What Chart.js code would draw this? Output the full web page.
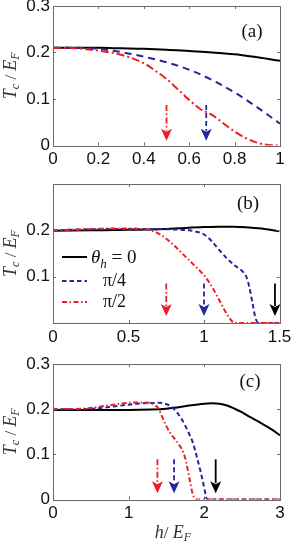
<!DOCTYPE html>
<html><head><meta charset="utf-8">
<script src="https://cdn.jsdelivr.net/npm/chart.js@4/dist/chart.umd.min.js"></script>
<style>
html,body{margin:0;padding:0;background:#fff;width:291px;height:542px;overflow:hidden}
.p{position:absolute;left:0;width:291px}
canvas{display:block}
</style></head><body>
<div class="p" style="top:0;height:176px"><canvas id="ca" width="291" height="176"></canvas></div>
<div class="p" style="top:176px;height:170px"><canvas id="cb" width="291" height="170"></canvas></div>
<div class="p" style="top:346px;height:196px"><canvas id="cc" width="291" height="196"></canvas></div>
<script>
// ---------- Panel (a): h/E_F from 0 to 1 ----------
const aBlackX = [0, 0.1, 0.2, 0.3, 0.4, 0.5, 0.6, 0.7, 0.8, 0.85, 0.9, 0.95, 1.0];
const aBlackY = [0.21, 0.21, 0.21, 0.209, 0.208, 0.206, 0.203, 0.2, 0.196, 0.193, 0.19, 0.186, 0.182];
const aBlueX = [0, 0.1, 0.2, 0.3, 0.4, 0.5, 0.6, 0.7, 0.8, 0.9, 1.0];
const aBlueY = [0.21, 0.21, 0.208, 0.201, 0.191, 0.179, 0.163, 0.141, 0.114, 0.082, 0.047];
const aRedX = [0, 0.1, 0.2, 0.3, 0.4, 0.45, 0.5, 0.55, 0.6, 0.65, 0.7, 0.75, 0.8, 0.85, 0.9, 0.95, 1.0];
const aRedY = [0.21, 0.209, 0.204, 0.195, 0.177, 0.161, 0.143, 0.121, 0.098, 0.078, 0.066, 0.048, 0.03, 0.016, 0.006, 0.001, 0];
const aArrowX = [0.5, 0.675];
const aArrowTop = 0.087, aArrowTip = 0.01;

// ---------- Panel (b): h/E_F from 0 to 1.5 ----------
const bBlackX = [0, 0.25, 0.5, 0.75, 1.0, 1.1, 1.2, 1.3, 1.4, 1.5];
const bBlackY = [0.199, 0.2, 0.201, 0.203, 0.207, 0.208, 0.208, 0.206, 0.203, 0.198];
const bBlueX = [0, 0.2, 0.4, 0.6, 0.8, 0.9, 0.95, 1.0, 1.05, 1.1, 1.15, 1.2, 1.25, 1.28, 1.3, 1.32, 1.34, 1.36, 1.5];
const bBlueY = [0.2, 0.202, 0.203, 0.203, 0.202, 0.2, 0.197, 0.191, 0.177, 0.158, 0.14, 0.125, 0.113, 0.1, 0.078, 0.045, 0.012, 0, 0];
const bRedX = [0, 0.2, 0.4, 0.6, 0.65, 0.7, 0.75, 0.8, 0.85, 0.9, 0.95, 1.0, 1.05, 1.1, 1.15, 1.19, 1.2, 1.5];
const bRedY = [0.2, 0.202, 0.204, 0.203, 0.2, 0.193, 0.182, 0.168, 0.152, 0.136, 0.12, 0.103, 0.08, 0.05, 0.02, 0.002, 0, 0];
const bArrowX = [0.75, 1.0, 1.47];
const bArrowTop = 0.085, bArrowTip = 0.015;

// ---------- Panel (c): h/E_F from 0 to 3 ----------
const cBlackX = [0, 0.5, 1.0, 1.3, 1.5, 1.6, 1.8, 2.0, 2.1, 2.2, 2.3, 2.4, 2.5, 2.6, 2.7, 2.8, 2.9, 3.0];
const cBlackY = [0.198, 0.198, 0.198, 0.199, 0.201, 0.203, 0.208, 0.212, 0.213, 0.212, 0.208, 0.201, 0.193, 0.183, 0.174, 0.164, 0.154, 0.142];
const cBlueX = [0, 0.4, 0.6, 0.8, 1.0, 1.2, 1.4, 1.5, 1.55, 1.6, 1.7, 1.8, 1.85, 1.9, 1.95, 2.0, 2.03, 2.05, 3.0];
const cBlueY = [0.2, 0.2, 0.202, 0.206, 0.21, 0.213, 0.214, 0.211, 0.207, 0.2, 0.178, 0.145, 0.125, 0.095, 0.062, 0.025, 0.002, 0, 0];
const cRedX = [0, 0.4, 0.6, 0.8, 1.0, 1.2, 1.3, 1.35, 1.4, 1.45, 1.5, 1.55, 1.6, 1.65, 1.7, 1.75, 1.8, 1.85, 1.9, 3.0];
const cRedY = [0.2, 0.201, 0.205, 0.21, 0.214, 0.215, 0.213, 0.209, 0.2, 0.18, 0.162, 0.147, 0.136, 0.125, 0.112, 0.09, 0.05, 0.01, 0, 0];
const cArrowX = [1.38, 1.6, 2.15];
const cArrowTop = 0.089, cArrowTip = 0.014;

const yTicks = [0, 0.1, 0.2, 0.3];
const legendLabels = ['0', 'π/4', 'π/2'];

const BLACK = '#000000', BLUE = '#26269c', RED = '#ee1c24', FRAME = '#6a6a6a';
const SERIF = '"Liberation Serif","Times New Roman",serif';
const SANS = '"Liberation Sans",Arial,sans-serif';

function pts(xs, ys) { return xs.map((x, i) => ({ x: x, y: ys[i] })); }

const decorPlugin = {
  id: 'decor',
  afterDatasetsDraw(chart) {
    const o = chart.options.plugins.decor;
    const ctx = chart.ctx, xs = chart.scales.x, ys = chart.scales.y;
    o.arrows.forEach(a => {
      const px = xs.getPixelForValue(a.x), pt = ys.getPixelForValue(a.top), tip = ys.getPixelForValue(a.tip);
      const hh = 12, hw = 5.5;
      ctx.save();
      ctx.strokeStyle = a.color; ctx.lineWidth = 1.8; ctx.setLineDash(a.dash);
      ctx.beginPath(); ctx.moveTo(px, pt); ctx.lineTo(px, tip - hh + 2); ctx.stroke();
      ctx.setLineDash([]); ctx.fillStyle = a.color;
      ctx.beginPath(); ctx.moveTo(px - hw, tip - hh); ctx.lineTo(px, tip - hh + 3);
      ctx.lineTo(px + hw, tip - hh); ctx.lineTo(px, tip); ctx.closePath(); ctx.fill();
      ctx.restore();
    });
  },
  afterDraw(chart) {
    const o = chart.options.plugins.decor;
    const ctx = chart.ctx, xs = chart.scales.x, ys = chart.scales.y, ca = chart.chartArea;
    const off = chart.canvas.offsetParent.offsetTop;
    ctx.save();
    ctx.strokeStyle = FRAME; ctx.lineWidth = 1;
    ctx.strokeRect(Math.round(ca.left) + 0.5, Math.round(ca.top) + 0.5, Math.round(ca.right - ca.left), Math.round(ca.bottom - ca.top));
    const tl = 3;
    xs.ticks.forEach(t => {
      const p = Math.round(xs.getPixelForValue(t.value)) + 0.5;
      ctx.beginPath(); ctx.moveTo(p, ca.bottom); ctx.lineTo(p, ca.bottom - tl);
      ctx.moveTo(p, ca.top); ctx.lineTo(p, ca.top + tl); ctx.stroke();
    });
    ys.ticks.forEach(t => {
      const p = Math.round(ys.getPixelForValue(t.value)) + 0.5;
      ctx.beginPath(); ctx.moveTo(ca.left, p); ctx.lineTo(ca.left + tl, p);
      ctx.moveTo(ca.right, p); ctx.lineTo(ca.right - tl, p); ctx.stroke();
    });
    ctx.fillStyle = '#111'; ctx.font = '19px ' + SERIF; ctx.textAlign = 'center'; ctx.textBaseline = 'middle';
    ctx.fillText(o.label, o.labelPos[0], o.labelPos[1] - off);
    const cy = (ca.top + ca.bottom) / 2;
    ctx.translate(16, cy); ctx.rotate(-Math.PI / 2);
    const parts = [
      { t: 'T', f: 'italic 18px ' + SERIF, dy: 0 },
      { t: 'c', f: 'italic 12px ' + SERIF, dy: 3 },
      { t: ' / ', f: '17px ' + SERIF, dy: 0 },
      { t: 'E', f: 'italic 18px ' + SERIF, dy: 0 },
      { t: 'F', f: 'italic 12px ' + SERIF, dy: 3 }
    ];
    let w = 0;
    parts.forEach(p => { ctx.font = p.f; p.w = ctx.measureText(p.t).width; w += p.w; });
    let x = -w / 2;
    ctx.textAlign = 'left'; ctx.textBaseline = 'alphabetic'; ctx.fillStyle = '#333';
    parts.forEach(p => { ctx.font = p.f; ctx.fillText(p.t, x, p.dy); x += p.w; });
    ctx.restore();
    if (o.xTitle) {
      ctx.save();
      const xp = [
        { t: 'h', f: 'italic 18px ' + SERIF, dy: 0 },
        { t: '/ ', f: '17px ' + SERIF, dy: 0 },
        { t: 'E', f: 'italic 18px ' + SERIF, dy: 0 },
        { t: 'F', f: 'italic 12px ' + SERIF, dy: 3 }
      ];
      let ww = 0;
      xp.forEach(p => { ctx.font = p.f; p.w = ctx.measureText(p.t).width; ww += p.w; });
      let xx = o.xTitle[0] - ww / 2;
      const by = o.xTitle[1] - off;
      ctx.fillStyle = '#333'; ctx.textAlign = 'left'; ctx.textBaseline = 'alphabetic';
      xp.forEach(p => { ctx.font = p.f; ctx.fillText(p.t, xx, by + p.dy); xx += p.w; });
      ctx.restore();
    }
    if (o.legend) {
      ctx.save();
      const ds = chart.data.datasets;
      const rows = [ds[2], ds[1], ds[0]];
      const ly = o.legend.ys.map(v => v - off), lx0 = o.legend.x0, lx1 = o.legend.x1;
      rows.forEach((d, i) => {
        ctx.strokeStyle = d.borderColor; ctx.lineWidth = 2; ctx.setLineDash(d.borderDash || []);
        ctx.beginPath(); ctx.moveTo(lx0, ly[i]); ctx.lineTo(lx1, ly[i]); ctx.stroke();
      });
      ctx.setLineDash([]); ctx.fillStyle = '#111'; ctx.textAlign = 'left'; ctx.textBaseline = 'alphabetic';
      let tx = 91;
      ctx.font = 'italic 19px ' + SERIF; ctx.fillText('θ', tx, ly[0] + 6); tx += ctx.measureText('θ').width;
      ctx.font = 'italic 13px ' + SERIF; ctx.fillText('h', tx, ly[0] + 11); tx += ctx.measureText('h').width;
      ctx.font = '19px ' + SERIF; ctx.fillText(' = ' + legendLabels[0], tx, ly[0] + 6);
      ctx.font = '18px ' + SERIF;
      ctx.fillText(legendLabels[1], 103, ly[1] + 5);
      ctx.fillText(legendLabels[2], 103, ly[2] + 5);
      ctx.restore();
    }
  }
};

function makePanel(id, p) {
  const fmt = v => Number(v.toFixed(2)).toString();
  return new Chart(document.getElementById(id), {
    type: 'line',
    data: {
      datasets: [
        { data: pts(p.red[0], p.red[1]), borderColor: RED, borderDash: p.redDash, borderWidth: 2, order: 0 },
        { data: pts(p.blue[0], p.blue[1]), borderColor: BLUE, borderDash: p.blueDash, borderWidth: 2, order: 1 },
        { data: pts(p.black[0], p.black[1]), borderColor: BLACK, borderWidth: 2, order: 2 }
      ]
    },
    options: {
      responsive: false, animation: false, devicePixelRatio: 1,
      layout: { padding: { top: p.padTop, right: p.padRight, left: 0, bottom: 0 } },
      elements: { point: { radius: 0 }, line: { cubicInterpolationMode: 'monotone', borderCapStyle: 'butt' } },
      plugins: {
        legend: { display: false }, tooltip: { enabled: false },
        decor: p.decor
      },
      scales: {
        x: {
          type: 'linear', min: 0, max: p.xMax,
          grid: { display: false, drawTicks: false }, border: { display: false },
          ticks: { stepSize: p.xStep, padding: 4, color: '#111', font: { family: SANS, size: 17 }, maxRotation: 0, autoSkip: false, callback: fmt },
          afterFit: s => { s.height = p.xH; s.paddingLeft = 0; s.paddingRight = 0; }
        },
        y: {
          type: 'linear', min: 0, max: 0.3,
          afterBuildTicks: s => { s.ticks = yTicks.map(v => ({ value: v })); },
          grid: { display: false, drawTicks: false }, border: { display: false },
          ticks: { padding: 3, color: '#111', font: { family: SANS, size: 17 }, autoSkip: false,
            callback: v => (p.yShow.includes(v) ? fmt(v) : '') },
          afterFit: s => { s.width = 53; s.paddingTop = 0; s.paddingBottom = 0; }
        }
      }
    },
    plugins: [decorPlugin]
  });
}

makePanel('ca', {
  black: [aBlackX, aBlackY], blue: [aBlueX, aBlueY], red: [aRedX, aRedY],
  blueDash: [7, 5], redDash: [8, 3, 2, 3],
  xMax: 1, xStep: 0.2, padTop: 6, padRight: 11, xH: 30.5, yShow: [0, 0.1, 0.2, 0.3],
  decor: {
    label: '(a)', labelPos: [252, 32],
    arrows: [
      { x: aArrowX[0], top: aArrowTop, tip: aArrowTip, color: RED, dash: [6, 2.5, 1.5, 2.5] },
      { x: aArrowX[1], top: aArrowTop, tip: aArrowTip, color: BLUE, dash: [5, 3] }
    ]
  }
});
makePanel('cb', {
  black: [bBlackX, bBlackY], blue: [bBlueX, bBlueY], red: [bRedX, bRedY],
  blueDash: [4.5, 3], redDash: [5, 2.5, 1.5, 2.5],
  xMax: 1.5, xStep: 0.5, padTop: 8, padRight: 11.5, xH: 23, yShow: [0.1, 0.2],
  decor: {
    label: '(b)', labelPos: [248, 204],
    legend: { x0: 62, x1: 87, ys: [257, 281, 302] },
    arrows: [
      { x: bArrowX[0], top: bArrowTop, tip: bArrowTip, color: RED, dash: [6, 2.5, 1.5, 2.5] },
      { x: bArrowX[1], top: bArrowTop, tip: bArrowTip, color: BLUE, dash: [5, 3] },
      { x: bArrowX[2], top: bArrowTop, tip: bArrowTip, color: BLACK, dash: [] }
    ]
  }
});
makePanel('cc', {
  black: [cBlackX, cBlackY], blue: [cBlueX, cBlueY], red: [cRedX, cRedY],
  blueDash: [4.5, 3], redDash: [5, 2.5, 1.5, 2.5],
  xMax: 3, xStep: 1, padTop: 18, padRight: 11, xH: 42.5, yShow: [0, 0.1, 0.2, 0.3],
  decor: {
    label: '(c)', labelPos: [250, 382],
    xTitle: [173, 538],
    arrows: [
      { x: cArrowX[0], top: cArrowTop, tip: cArrowTip, color: RED, dash: [6, 2.5, 1.5, 2.5] },
      { x: cArrowX[1], top: cArrowTop, tip: cArrowTip, color: BLUE, dash: [5, 3] },
      { x: cArrowX[2], top: cArrowTop, tip: cArrowTip, color: BLACK, dash: [] }
    ]
  }
});
</script>
</body></html>
